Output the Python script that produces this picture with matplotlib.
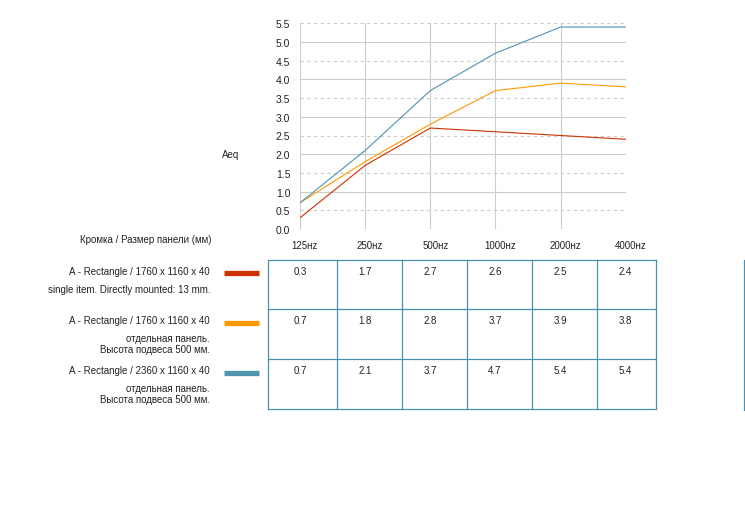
import matplotlib
matplotlib.use("Agg")
import matplotlib.pyplot as plt

plt.rcParams['font.family'] = ['Liberation Sans', 'DejaVu Sans']

# --- data ---
freqs = ['125', '250', '500', '1000', '2000', '4000']
series_names = ['A - Rectangle / 1760 x 1160 x 40',
                'A - Rectangle / 1760 x 1160 x 40',
                'A - Rectangle / 2360 x 1160 x 40']
series_notes = [['single item. Directly mounted: 13 mm.'],
                ['отдельная панель.', 'Высота подвеса 500 мм.'],
                ['отдельная панель.', 'Высота подвеса 500 мм.']]
values = [[0.3, 1.7, 2.7, 2.6, 2.5, 2.4],
          [0.7, 1.8, 2.8, 3.7, 3.9, 3.8],
          [0.7, 2.1, 3.7, 4.7, 5.4, 5.4]]
colors = ['#CC3300', '#FF9900', '#4F94B0']
yticks = [0.0, 0.5, 1.0, 1.5, 2.0, 2.5, 3.0, 3.5, 4.0, 4.5, 5.0, 5.5]

W, H = 745, 510
FS = 7
TXT = '#222222'
fig = plt.figure(figsize=(W / 100, H / 100), dpi=100)

# --- line chart ---
x0, x1, y0, y1 = 300, 625.7, 24.3, 230
ax = fig.add_axes([x0 / W, 1 - y1 / H, (x1 - x0) / W, (y1 - y0) / H])
xs = list(range(len(freqs)))
for vals, c in zip(values, colors):
    ax.plot(xs, vals, color=c, lw=0.8)
ax.set_xlim(0, len(freqs) - 1)
ax.set_ylim(0, 5.5)
ax.set_yticks(yticks)
ax.set_yticklabels([f'{v:.1f}' for v in yticks], fontsize=7.5, color=TXT)
ax.set_xticks([])
for v in yticks:
    if v == int(v):
        ax.axhline(v, color='#cccccc', lw=0.8, zorder=0)
    else:
        ax.axhline(v, color='#cccccc', lw=0.8, ls=(0, (3, 3)), zorder=0)
for x in xs:
    ax.axvline(x, color='#cccccc', lw=0.8, zorder=0)
for s in ax.spines.values():
    s.set_visible(False)
ax.tick_params(axis='y', length=0, pad=7)

# --- overlay in pixel coordinates for labels and table ---
ov = fig.add_axes([0, 0, 1, 1])
ov.set_xlim(0, W)
ov.set_ylim(H, 0)
ov.axis('off')

ov.text(222, 155, 'Aeq', fontsize=FS, va='center', ha='left', color=TXT)
ov.text(211, 240, 'Кромка / Размер панели (мм)', fontsize=FS, va='center',
        ha='right', color=TXT)

step = (x1 - x0) / (len(freqs) - 1)
for i, f in enumerate(freqs):
    px = x0 + i * step
    ov.text(px + 5, 246, f + 'нz', fontsize=FS, ha='center', va='center',
            color=TXT)

# table
col_edges = [268.3, 337.3, 402.3, 467.3, 532.3, 597.3, 655.7]
row_edges = [260.7, 310.3, 360.3, 410.3]
tcol = '#4A90B0'
for y in row_edges:
    ov.plot([col_edges[0], col_edges[-1]], [y, y], color=tcol, lw=0.9)
for x in col_edges:
    ov.plot([x, x], [row_edges[0], row_edges[-1]], color=tcol, lw=0.9)
ov.plot([744.3, 744.3], [261, 411], color=tcol, lw=0.9)

for r, vals in enumerate(values):
    ty = row_edges[r] + 11
    for c, v in enumerate(vals):
        off = 25 if c == 0 else 21
        ov.text(col_edges[c] + off, ty, f'{v}', fontsize=FS, ha='left',
                va='center', color=TXT)
    # legend swatch + labels
    ov.plot([224, 259], [ty + 2.5, ty + 2.5], color=colors[r], lw=3.8,
            solid_capstyle='butt')
    ov.text(210, ty, series_names[r], fontsize=FS, ha='right', va='center',
            color=TXT)
    notes = series_notes[r]
    ov.text(210, ty + 18, notes[0], fontsize=FS, ha='right', va='center',
            color=TXT)
    if len(notes) > 1:
        ov.text(210, ty + 28.5, notes[1], fontsize=FS, ha='right',
                va='center', color=TXT)

fig.savefig('out.png', dpi=100)
